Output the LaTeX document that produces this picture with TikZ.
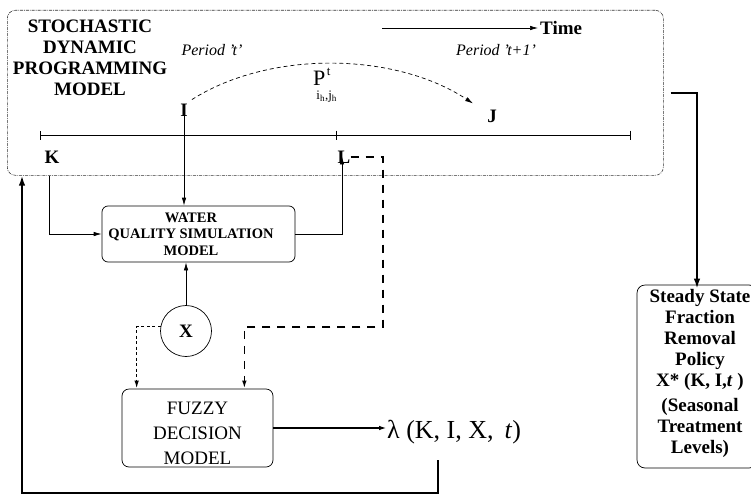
\documentclass[tikz,border=0pt]{standalone}
\usepackage{fontspec}
\setmainfont{Liberation Serif}
\usetikzlibrary{arrows.meta,calc}
\newcommand\fsz[2]{\fontsize{#1}{#2}\selectfont}

\begin{document}
\begin{tikzpicture}[x=1pt,y=-1pt,
  thinline/.style={line width=0.7pt},
  heavyline/.style={line width=1.8pt},
  tip/.style={-{Latex[length=8pt,width=4.5pt]}},
  bigtip/.style={-{Latex[length=10pt,width=6.5pt]}},
  bold/.style={font=\fsz{19}{21}\bfseries, inner sep=0pt},
  period/.style={font=\fsz{16}{18}\itshape, inner sep=0pt},
  dashL/.style={line width=1.6pt, dash pattern=on 8pt off 7pt},
  dotX/.style={line width=1.4pt, dash pattern=on 3pt off 2.5pt},
  frame/.style={draw=black!80, line width=0.6pt, rounded corners=8pt,
    dash pattern=on 3pt off 1pt on 0.8pt off 1pt}
]
\useasboundingbox (0,0) rectangle (751,495);

% stochastic dynamic programming frame
\node[frame, minimum width=656pt, minimum height=165pt, anchor=north west] (sdp) at (7,10) {};
\node[bold, align=center] (title) at (90,58) {STOCHASTIC\\DYNAMIC\\PROGRAMMING\\MODEL};

% time axis
\node[bold, anchor=west] (time) at (540,28) {Time};
\coordinate (t0) at (382,28);
\draw[thinline, tip] (t0) -- ([xshift=-2pt]time.west);
\node[period] (pt) at (212,50) {Period {\char"0027}t'};
\node[period] (pt1) at (496,50) {Period {\char"0027}t+1'};

\coordinate (tl) at (40,135);
\coordinate (tm) at (336,135);
\coordinate (tr) at (631,135);
\draw[thinline, {Bar[width=9pt]}-{Bar[width=9pt]}] (tl) -- (tr);
\draw[thinline] ($(tm)+(0,-4.5)$) -- ($(tm)+(0,4.5)$);

% states
\node[bold] (I) at (184,110) {I};
\node[bold] (J) at (492,116) {J};
\node[bold] (K) at (52,157) {K};
\node[bold] (L) at (344,157) {L};

% transition probability
\draw[thinline, dash pattern=on 4pt off 3pt, tip] ($(I.north east)+(4,-4)$)
  .. controls (270,50) and (395,52) .. ($(J.north west)+(-14,-6)$);
\node[inner sep=0pt, anchor=base west, font=\fsz{22}{22}] (pij) at (313,85)
  {P\rlap{\kern1.5pt\raisebox{10pt}{\fsz{13}{13}t}}\kern-9pt\raisebox{-14pt}{\fsz{13}{13}i\textsubscript{h},j\textsubscript{h}}};

% water quality simulation model
\node[draw, thinline, rounded corners=6pt, minimum width=193pt, minimum height=56pt] (wq) at (198.5,234) {};
\node[align=center, inner sep=0pt, font=\fsz{14.5}{16.5}\bfseries] (wqtext) at (191,234)
  {WATER\\QUALITY SIMULATION\\MODEL};
\draw[thinline, tip] (I.south) -- (I.south |- wq.north);
\draw[thinline, tip] ([xshift=-3pt]K.south |- sdp.south) |- (wq.west);
\draw[thinline, tip] (wq.east) -| ([xshift=-2pt, yshift=7pt]L.south);

% decision variable
\node[draw, thinline, circle, minimum size=51pt, inner sep=0pt, font=\fsz{19}{19}\bfseries] (X) at (186,331) {X};
\draw[thinline, tip] (X.north) -- (X.north |- wq.south);

% fuzzy decision model
\node[draw, thinline, rounded corners=7pt, minimum width=151pt, minimum height=78pt] (fz) at (197.5,428) {};
\node[align=center, inner sep=0pt, font=\fsz{19}{25}] (fztext) at (197.5,433) {FUZZY\\DECISION\\MODEL};
\coordinate (fzL) at ($(fz.north west)+(15,0)$);
\coordinate (fzR) at ($(fz.north east)+(-29,0)$);
\coordinate (d1) at (383,327);
\draw[dotX, tip] (X.170) -| (fzL);
\draw[dashL, tip] (L.east) -| (d1) -| (fzR);

% membership value
\node[inner sep=0pt, anchor=west, font=\fsz{26}{26}] (lam) at (387,432) {λ (K, I, X,\, \textit{t})};
\draw[heavyline, tip] (fz.east) -- (fz.east -| lam.west);

% feedback to the programming model
\coordinate (fb0) at (438,460);
\coordinate (fb1) at (22,493);
\draw[heavyline, bigtip] (fb0) |- (fb1) -- (fb1 |- sdp.south);

% steady state policy
\node[draw, thinline, rounded corners=8pt, minimum width=120pt, minimum height=183pt] (pol) at (697,376.5) {};
\node[align=center, inner sep=0pt, font=\fsz{19}{21}\bfseries] (poltext) at (700,373)
  {Steady State\\Fraction\\Removal\\Policy\\X* (K, I,\textit{t} )\\[4pt](Seasonal\\Treatment\\Levels)};
\draw[heavyline, bigtip] ([xshift=7pt]sdp.east) -| ([yshift=-4pt]pol.north);
\end{tikzpicture}
\end{document}
